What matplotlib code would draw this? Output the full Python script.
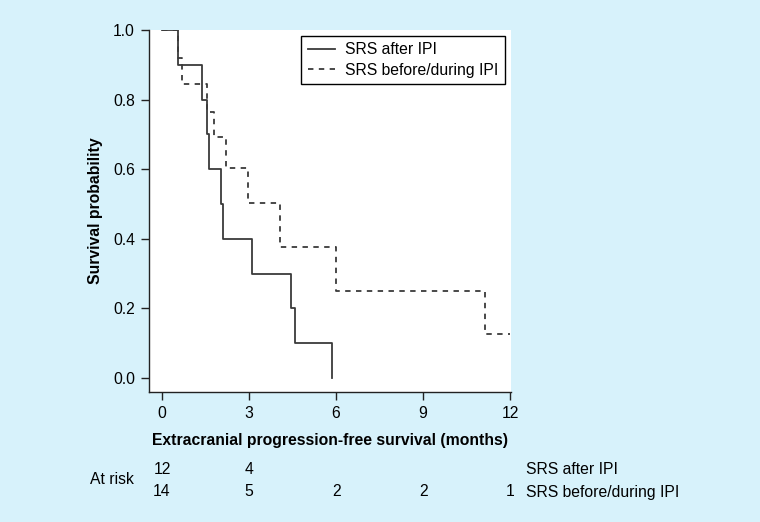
import numpy as np
import matplotlib
matplotlib.use("Agg")
import matplotlib.pyplot as plt
from matplotlib.transforms import blended_transform_factory

# Kaplan-Meier steps
after_t = [0, 0.55, 1.37, 1.54, 1.63, 2.03, 2.10, 3.09, 4.46, 4.57, 5.86]
after_s = [1.0, 0.9, 0.8, 0.7, 0.6, 0.5, 0.4, 0.3, 0.2, 0.1, 0.0]

before_t = [0, 0.54, 0.70, 1.56, 1.79, 2.20, 2.98, 4.07, 5.99, 11.14, 12.0]
before_s = [1.0, 0.92, 0.845, 0.765, 0.692, 0.603, 0.504, 0.377, 0.251, 0.126, 0.126]

group_labels = ["SRS after IPI", "SRS before/during IPI"]
risk_times = [0, 3, 6, 9, 12]
risk_after = ["12", "4", "", "", ""]
risk_before = ["14", "5", "2", "2", "1"]

bg = "#d7f2fb"
line_col = "#3a3a3a"
fs = 11.3

plt.rcParams["font.family"] = ["Liberation Sans", "DejaVu Sans"]

fig = plt.figure(figsize=(7.6, 5.22), dpi=100, facecolor=bg)
ax = fig.add_axes([149 / 760, 1 - 392 / 522, 362 / 760, 362 / 522])
ax.set_facecolor("white")

ax.step(after_t, after_s, where="post", color=line_col, lw=1.3,
        label=group_labels[0])
ax.step(before_t, before_s, where="post", color=line_col, lw=1.3,
        linestyle=(0, (3, 3)), label=group_labels[1])

ax.set_xlim(-0.45, 12.03)
ax.set_ylim(-0.04, 1.0)
ax.set_xticks(risk_times)
ax.set_yticks([0, 0.2, 0.4, 0.6, 0.8, 1.0])
ax.set_yticklabels(["0.0", "0.2", "0.4", "0.6", "0.8", "1.0"])
ax.tick_params(length=6, width=1, labelsize=fs, color="#222222", pad=4)

for side in ["top", "right"]:
    ax.spines[side].set_visible(False)
for side in ["left", "bottom"]:
    ax.spines[side].set_linewidth(1)
    ax.spines[side].set_color("#222222")

ax.set_xlabel("Extracranial progression-free survival (months)",
              fontsize=fs, fontweight="bold", va="center")
ax.xaxis.set_label_coords(0.5, -48 / 362)
ax.set_ylabel("Survival probability", fontsize=fs, fontweight="bold",
              va="center")
ax.yaxis.set_label_coords(-0.149, 0.5)

leg = ax.legend(loc="upper right", bbox_to_anchor=(0.983, 0.983),
                borderaxespad=0, fancybox=False, fontsize=fs,
                handlelength=1.75, handletextpad=0.65, labelspacing=0.35,
                borderpad=0.4)
leg.get_frame().set_edgecolor("black")
leg.get_frame().set_linewidth(1)
leg.get_frame().set_alpha(1)

# number at risk table
tr = blended_transform_factory(ax.transData, fig.transFigure)
y1 = 1 - 470 / 522
y2 = 1 - 492 / 522
for t, a, b in zip(risk_times, risk_after, risk_before):
    ax.text(t, y1, a, transform=tr, ha="center", va="center", fontsize=fs)
    ax.text(t, y2, b, transform=tr, ha="center", va="center", fontsize=fs)

fig.text(134 / 760, 1 - 480 / 522, "At risk", ha="right", va="center",
         fontsize=fs)
fig.text(526 / 760, y1, group_labels[0], ha="left", va="center", fontsize=fs)
fig.text(526 / 760, y2, group_labels[1], ha="left", va="center", fontsize=fs)

fig.savefig("out.png", dpi=100, facecolor=bg)
